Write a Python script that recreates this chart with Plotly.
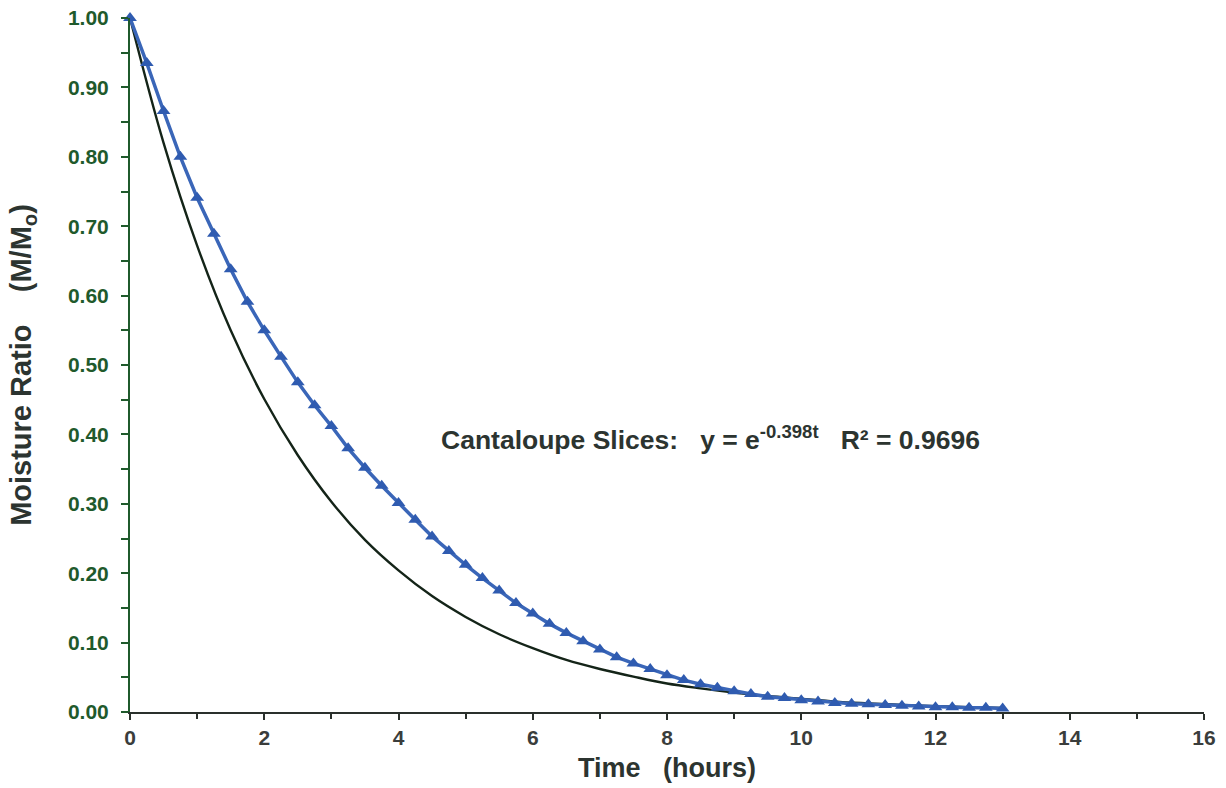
import plotly.graph_objects as go

# Measured data (blue triangles), every 0.25 h
time_h = [0, 0.25, 0.5, 0.75, 1.0, 1.25, 1.5, 1.75, 2.0, 2.25, 2.5, 2.75, 3.0, 3.25, 3.5, 3.75,
          4.0, 4.25, 4.5, 4.75, 5.0, 5.25, 5.5, 5.75, 6.0, 6.25, 6.5, 6.75, 7.0, 7.25, 7.5, 7.75,
          8.0, 8.25, 8.5, 8.75, 9.0, 9.25, 9.5, 9.75, 10.0, 10.25, 10.5, 10.75, 11.0, 11.25, 11.5,
          11.75, 12.0, 12.25, 12.5, 12.75, 13.0]
moisture = [1.000, 0.935, 0.866, 0.800, 0.741, 0.689, 0.638, 0.591, 0.550, 0.512, 0.475, 0.442,
            0.412, 0.380, 0.352, 0.326, 0.301, 0.277, 0.253, 0.232, 0.212, 0.193, 0.175, 0.157,
            0.142, 0.127, 0.114, 0.102, 0.090, 0.079, 0.070, 0.062, 0.053, 0.046, 0.040, 0.035,
            0.030, 0.026, 0.022, 0.020, 0.017, 0.015, 0.013, 0.012, 0.011, 0.010, 0.009, 0.008,
            0.007, 0.007, 0.006, 0.006, 0.005]

# Fitted curve (black line)
fit_t = [0, 0.5, 1.0, 1.5, 2.0, 2.5, 3.0, 3.5, 4.0, 4.5, 5.0, 5.5, 6.0, 6.5, 7.0, 7.5, 8.0,
         8.5, 9.0, 9.5, 10.0, 10.5, 11.0, 11.5, 12.0, 12.5, 13.0]
fit_y = [1.000, 0.820, 0.672, 0.550, 0.451, 0.370, 0.303, 0.248, 0.204, 0.167, 0.137, 0.112,
         0.092, 0.075, 0.062, 0.051, 0.041, 0.034, 0.028, 0.023, 0.019, 0.015, 0.0125, 0.0103,
         0.0084, 0.0069, 0.0057]

x_ticks = [0, 2, 4, 6, 8, 10, 12, 14, 16]
y_ticks = [0.0, 0.1, 0.2, 0.3, 0.4, 0.5, 0.6, 0.7, 0.8, 0.9, 1.0]
y_tick_labels = ["0.00", "0.10", "0.20", "0.30", "0.40", "0.50", "0.60", "0.70", "0.80", "0.90", "1.00"]

FONT = "Liberation Sans, Arial, sans-serif"
GREEN = "#1f5a2c"
DARK = "#2c3430"

fig = go.Figure()
fig.add_trace(go.Scatter(
    x=fit_t, y=fit_y, mode="lines", line=dict(color="#142418", width=2.4, shape="spline"),
    showlegend=False, cliponaxis=False))
fig.add_trace(go.Scatter(
    x=time_h, y=moisture, mode="lines+markers",
    line=dict(color="#3a66b8", width=3.5),
    marker=dict(symbol="triangle-up", size=12, color="#2f5bb0"),
    showlegend=False, cliponaxis=False))

fig.add_annotation(
    x=8.65, y=0.395, xref="x", yref="y",
    text="<b>Cantaloupe Slices:   y = e<sup>-0.398t</sup>   R² = 0.9696</b>",
    showarrow=False, font=dict(family=FONT, size=26.5, color=DARK))

fig.update_layout(
    width=1226, height=788,
    margin=dict(l=130, r=22, t=18, b=76),
    paper_bgcolor="white", plot_bgcolor="white",
    font=dict(family=FONT),
)
fig.update_xaxes(
    range=[0, 16], tickvals=x_ticks, ticktext=[f"<b>{v}</b>" for v in x_ticks],
    showgrid=False, zeroline=False, showline=True, linecolor="#2a302c", linewidth=2,
    ticks="outside", ticklen=6, tickwidth=2, tickcolor="#2a302c",
    minor=dict(dtick=1, ticks="outside", ticklen=5, tickwidth=2, tickcolor="#2a302c"),
    tickfont=dict(family=FONT, size=21, color="#3a3d3c"), automargin=False,
    title=dict(text="<b>Time   (hours)</b>", font=dict(family=FONT, size=27, color=DARK), standoff=10),
)
fig.update_yaxes(
    range=[0, 1.0], tickvals=y_ticks, ticktext=[f"<b>{t}</b>" for t in y_tick_labels],
    showgrid=False, zeroline=False, showline=True, linecolor=GREEN, linewidth=2,
    ticks="outside", ticklen=7, tickwidth=2, tickcolor=GREEN,
    minor=dict(dtick=0.05, ticks="outside", ticklen=7, tickwidth=2, tickcolor=GREEN),
    tickfont=dict(family=FONT, size=21, color=GREEN), ticklabelstandoff=8, automargin=False,
    title=dict(text="<b>Moisture Ratio    (M/M<sub>o</sub>)</b>", font=dict(family=FONT, size=29, color=DARK), standoff=28),
)

fig.write_html("out.html")
